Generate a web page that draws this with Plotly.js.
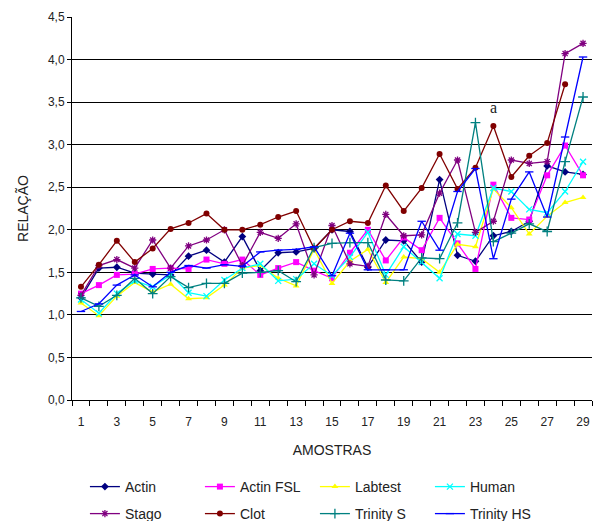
<!DOCTYPE html>
<html>
<head>
<meta charset="utf-8">
<script src="https://cdn.plot.ly/plotly-3.0.1.min.js"></script>
<style>html,body{margin:0;padding:0;background:#fff;}#chart{width:598px;height:521px;}</style>
</head>
<body>
<div id="chart"></div>
<script>
var samples = [1,2,3,4,5,6,7,8,9,10,11,12,13,14,15,16,17,18,19,20,21,22,23,24,25,26,27,28,29];
var xTickLabels = ["1","3","5","7","9","11","13","15","17","19","21","23","25","27","29"];
var xTickVals = [1,3,5,7,9,11,13,15,17,19,21,23,25,27,29];
var yTickVals = [0,0.5,1,1.5,2,2.5,3,3.5,4,4.5];
var yTickLabels = ["0,0","0,5","1,0","1,5","2,0","2,5","3,0","3,5","4,0","4,5"];

var actin    = [1.20,1.55,1.56,1.49,1.48,1.47,1.69,1.76,1.62,1.92,1.52,1.73,1.74,1.78,2.00,1.98,1.56,1.88,1.87,1.62,2.59,1.70,1.63,1.93,1.98,2.10,2.75,2.68,2.65];
var actinFSL = [1.25,1.35,1.47,1.48,1.54,1.55,1.54,1.65,1.60,1.65,1.47,1.55,1.62,1.52,1.43,1.73,2.00,1.64,1.91,1.76,2.14,1.84,1.54,2.53,2.14,2.12,2.64,2.99,2.64];
var labtest  = [1.14,0.99,1.22,1.38,1.27,1.36,1.19,1.20,1.35,1.55,1.58,1.43,1.34,1.77,1.37,1.63,1.77,1.38,1.68,1.66,1.50,1.83,1.80,2.48,2.26,1.95,2.16,2.32,2.38];
var human    = [1.18,1.02,1.25,1.40,1.33,1.47,1.26,1.22,1.41,1.55,1.60,1.40,1.42,1.60,1.46,1.68,1.97,1.47,1.80,1.62,1.43,1.95,1.93,2.49,2.45,2.24,2.20,2.45,2.80];
var stago    = [1.23,1.58,1.65,1.55,1.88,1.55,1.81,1.88,2.00,1.58,1.97,1.90,2.07,1.47,2.05,1.60,1.57,2.18,1.93,1.94,2.43,2.82,1.97,2.10,2.82,2.78,2.80,4.07,4.19];
var clot     = [1.33,1.59,1.87,1.62,1.78,2.01,2.08,2.19,2.00,2.00,2.06,2.15,2.22,1.78,2.00,2.10,2.08,2.52,2.22,2.49,2.89,2.48,2.73,3.22,2.62,2.87,3.02,3.71,null];
var trinityS = [1.20,1.10,1.23,1.43,1.25,1.45,1.32,1.37,1.37,1.49,1.50,1.52,1.39,1.79,1.84,1.85,1.85,1.41,1.40,1.67,1.66,2.08,3.26,1.86,1.96,2.07,1.98,2.80,3.56];
var trinityHS= [1.04,1.13,1.35,1.47,1.33,1.50,1.58,1.55,1.59,1.57,1.74,1.76,1.77,1.80,1.46,1.96,1.53,1.53,1.53,2.10,1.76,2.45,2.72,1.66,2.36,2.68,2.15,3.09,4.03];

var seriesNames = ["Actin","Actin FSL","Labtest","Human","Stago","Clot","Trinity S","Trinity HS"];
var seriesData = [actin, actinFSL, labtest, human, stago, clot, trinityS, trinityHS];
var colors = ["#000080","#FF00FF","#FFFF00","#00FFFF","#800080","#800000","#008080","#0000FF"];
var symbols = ["diamond","square","triangle-up","x-thin","asterisk","circle","cross-thin","line-ew"];
var sizes = [6,6,6,6,6,6,7,6];
var legendRow = ["legend","legend","legend","legend","legend2","legend2","legend2","legend2"];

var traces = seriesNames.map(function(n,i){
  var thin = (symbols[i]==="x-thin"||symbols[i]==="asterisk"||symbols[i]==="cross-thin"||symbols[i]==="line-ew");
  return {
    type:"scatter", mode:"lines+markers", name:n, legend:legendRow[i],
    x: samples, y: seriesData[i],
    line:{color:colors[i], width:1.3},
    marker:{symbol:symbols[i], size:sizes[i], color:colors[i],
            line:{color:colors[i], width: thin?1.3:0}},
    cliponaxis:false
  };
});

function legendBox(yc){
  return {
    orientation:"h", xref:"container", yref:"container",
    x:0.142, xanchor:"left", y:yc, yanchor:"middle",
    font:{size:14, color:"#222"}, itemwidth:30,
    entrywidth:70, entrywidthmode:"pixels",
    bgcolor:"rgba(0,0,0,0)", traceorder:"normal", tracegroupgap:0
  };
}

var layout = {
  width:598, height:521,
  margin:{l:72, r:6, t:17, b:121, pad:0, autoexpand:false},
  paper_bgcolor:"#fff", plot_bgcolor:"#fff",
  font:{family:"Liberation Sans, Arial, sans-serif", size:12, color:"#222"},
  showlegend:true,
  xaxis:{
    range:[0.5,29.5], tickmode:"array", tickvals:xTickVals, ticktext:xTickLabels,
    ticks:"", showgrid:false, zeroline:false, ticklabelstandoff:11,
    showline:true, linecolor:"#000", linewidth:1,
    tickfont:{size:12, color:"#222"},
    minor:{tick0:0.5, dtick:1, ticks:"outside", ticklen:5, tickcolor:"#000", tickwidth:1, showgrid:false},
    title:{text:"AMOSTRAS", font:{size:14, color:"#222"}, standoff:16}
  },
  yaxis:{
    range:[0,4.5], tickmode:"array", tickvals:yTickVals, ticktext:yTickLabels,
    ticks:"outside", ticklen:4, tickcolor:"#000",
    showgrid:true, gridcolor:"#000", gridwidth:1, zeroline:false,
    showline:true, linecolor:"#000", linewidth:1,
    tickfont:{size:12, color:"#222"},
    title:{text:"RELAÇÃO", font:{size:14, color:"#222"}, standoff:16}
  },
  legend: legendBox(1-487/521),
  legend2: legendBox(1-514/521),
  annotations:[
    {x:24, y:3.44, xref:"x", yref:"y", text:"a", showarrow:false, font:{family:"Liberation Serif, Times New Roman, serif", size:16, color:"#222"}},
    {x:29.55, y:4.42, xref:"x", yref:"y", text:"b", showarrow:false, font:{family:"Liberation Serif, Times New Roman, serif", size:16, color:"#222"}},
    {x:29.55, y:2.81, xref:"x", yref:"y", text:"c", showarrow:false, font:{family:"Liberation Serif, Times New Roman, serif", size:16, color:"#222"}}
  ]
};

Plotly.newPlot("chart", traces, layout, {displayModeBar:false, staticPlot:true});
</script>
</body>
</html>
